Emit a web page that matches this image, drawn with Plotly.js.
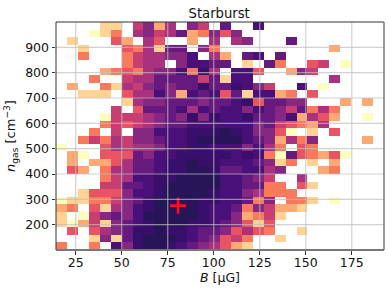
<!DOCTYPE html>
<html><head><meta charset="utf-8">
<script src="https://cdn.plot.ly/plotly-3.0.1.min.js"></script>
<style>html,body{margin:0;padding:0;background:#fff}#c{width:390px;height:291px}</style>
</head><body><div id="c"></div>
<script>
// Colour level per bin (1 palest ... 12 darkest, 0 = empty), rows from top (n≈985) to bottom (n≈115)
const r00=[0,0,0,0,2,2,0,6,8,3,7,0,8,6,0,9,0,0,10,0,0,0,0,0,0,0,0,0,0,0];
const r01=[0,0,0,1,2,4,0,7,8,6,7,9,3,4,8,5,8,0,0,0,0,0,0,0,0,0,0,0,0,0];
const r02=[0,2,0,0,0,5,3,0,7,5,0,0,3,0,7,0,7,8,0,0,0,9,0,0,0,0,0,0,0,0];
const r03=[0,0,2,0,0,0,5,4,7,2,9,9,0,8,4,0,0,0,0,0,0,0,0,0,0,3,0,0,0,0];
const r04=[0,0,4,0,0,0,4,6,7,7,8,8,10,0,7,3,0,9,10,0,9,0,0,0,0,0,0,0,0,0];
const r05=[0,0,0,0,0,0,4,6,7,7,0,8,10,10,9,9,0,2,0,9,4,0,0,5,6,0,1,0,0,0];
const r06=[0,0,0,0,3,4,5,4,7,8,8,10,4,11,7,0,10,10,5,0,0,3,8,6,0,0,0,0,0,0];
const r07=[0,0,0,4,0,0,6,7,7,9,9,9,9,6,9,2,10,10,0,0,0,0,0,0,0,7,0,0,0,0];
const r08=[0,3,0,0,4,2,7,6,8,9,8,9,9,11,9,9,11,10,8,6,0,0,10,0,1,0,0,0,0,0];
const r09=[0,0,2,2,2,0,5,7,7,10,8,3,10,9,10,5,9,2,10,10,3,4,0,5,0,0,0,0,0,0];
const r10=[0,0,0,0,0,0,2,7,8,8,9,9,9,8,9,9,10,11,5,9,9,8,8,0,0,0,3,0,3,0];
const r11=[0,0,0,0,0,6,0,5,9,9,9,10,7,10,9,10,10,8,10,9,8,6,9,4,7,4,0,0,0,0];
const r12=[0,0,0,0,1,6,6,6,7,8,9,8,11,8,11,10,10,11,9,9,8,10,3,7,5,3,0,0,1,0];
const r13=[0,0,0,0,4,6,5,6,7,8,9,9,10,10,10,10,10,10,8,9,6,5,4,3,7,0,0,0,0,0];
const r14=[0,0,0,4,0,6,0,8,8,10,10,10,11,11,11,12,11,10,8,8,5,1,0,2,0,5,0,0,0,0];
const r15=[0,0,4,6,4,7,6,8,8,9,10,10,11,12,12,12,12,10,9,8,3,7,4,8,0,0,0,0,3,0];
const r16=[1,0,0,0,5,7,6,7,7,8,10,10,11,11,10,10,10,8,10,7,4,0,5,4,0,0,0,0,0,0];
const r17=[0,3,1,0,5,5,5,9,8,10,10,11,11,11,11,11,10,11,10,4,1,9,5,4,3,5,1,0,0,0];
const r18=[0,3,0,3,3,5,7,9,9,10,11,11,12,11,11,10,10,10,9,8,2,4,0,2,0,3,0,0,0,0];
const r19=[0,5,3,0,4,7,7,9,9,10,11,11,12,12,11,9,9,10,10,7,8,0,0,0,3,4,0,0,0,0];
const r20=[0,0,0,0,4,6,7,10,10,11,11,12,12,12,12,10,10,9,8,6,0,0,7,0,0,0,0,0,0,0];
const r21=[0,0,0,0,6,6,9,9,10,11,12,12,12,12,12,10,10,9,9,4,4,0,5,2,0,0,0,0,0,0];
const r22=[0,0,2,5,5,5,8,10,10,11,12,12,12,12,11,10,10,8,7,4,4,4,0,0,0,0,0,0,0,0];
const r23=[1,2,2,4,4,6,8,9,11,12,12,12,12,11,11,10,10,9,4,8,0,4,4,2,0,1,0,0,0,0];
const r24=[3,4,0,5,2,7,8,10,11,12,12,12,12,11,10,10,9,4,8,6,3,3,2,0,0,0,0,0,0,0];
const r25=[2,0,1,6,8,9,8,10,12,12,12,12,12,11,10,10,8,3,4,6,2,0,0,0,0,0,0,0,0,0];
const r26=[2,1,3,6,2,8,9,10,11,12,12,12,11,11,10,9,8,5,2,5,0,0,0,0,0,0,0,0,0,0];
const r27=[0,5,0,5,7,8,9,11,11,12,11,11,10,9,9,8,5,7,5,4,0,0,2,0,0,0,0,0,0,0];
const r28=[0,0,0,2,8,2,9,11,12,12,12,11,10,9,8,5,6,4,0,0,2,0,0,0,0,0,0,0,0,0];
const r29=[4,0,0,4,0,10,8,11,12,12,11,10,9,8,7,5,3,2,0,0,0,0,0,0,0,0,0,0,0,0];
const rowsTopDown=[r00,r01,r02,r03,r04,r05,r06,r07,r08,r09,r10,r11,r12,r13,r14,r15,r16,r17,r18,r19,r20,r21,r22,r23,r24,r25,r26,r27,r28,r29];
const levelColors=['#fcfdbf','#fed395','#fea973','#f9795d','#e95462','#c83e73','#a8327d','#862781','#66197f','#4a1079','#38106c','#281558'];
const xTicks=[25,50,75,100,125,150,175];
const yTicks=[200,300,400,500,600,700,800,900];
const xRange=[14.3,192.5], yRange=[100,1000];
const peakB=[80.6], peakN=[275];

const z=rowsTopDown.slice().reverse().map(r=>r.map(v=>v===0?null:v));
const nx=z[0].length, ny=z.length;
const dx=(xRange[1]-xRange[0])/nx, dy=(yRange[1]-yRange[0])/ny;
const colorscale=levelColors.map((c,i)=>[i/(levelColors.length-1),c]);
const gridStyle={color:'rgba(190,190,190,0.7)',width:1.2};
const edge=(x0,y0,x1,y1,color,width)=>({type:'line',layer:'above',xref:'paper',yref:'paper',x0,x1,y0,y1,line:{color,width}});
const shapes=[
  ...xTicks.map(v=>({type:'line',layer:'above',xref:'x',yref:'paper',x0:v,x1:v,y0:0,y1:1,line:gridStyle})),
  ...yTicks.map(v=>({type:'line',layer:'above',xref:'paper',yref:'y',x0:0,x1:1,y0:v,y1:v,line:gridStyle})),
  edge(0,1,1,1,'#333',1), edge(0,0,0,1,'#333',1), edge(1,0,1,1,'#777',1.5), edge(0,0,1,0,'#777',2)
];
const font={family:'"DejaVu Sans",sans-serif',color:'#111',size:12.5};
Plotly.newPlot('c',[
 {type:'heatmap',z,x0:xRange[0]+dx/2,dx,y0:yRange[0]+dy/2,dy,zmin:1,zmax:levelColors.length,zsmooth:false,colorscale,showscale:false,hoverongaps:false},
 {type:'scatter',mode:'markers',x:peakB,y:peakN,marker:{symbol:'cross-thin',size:11.5,line:{color:'#ff0d1e',width:2.6}},showlegend:false}
],{
 width:390,height:291,margin:{l:55.5,r:6,t:21.5,b:41,pad:0},
 paper_bgcolor:'#fff',plot_bgcolor:'#fff',font,showlegend:false,
 title:{text:'Starburst',font:{size:13.2,family:font.family,color:'#111'},x:0.562,xanchor:'center',y:0.953,yanchor:'middle'},
 xaxis:{range:xRange,tickmode:'array',tickvals:xTicks,ticks:'outside',ticklen:3.5,tickwidth:1,tickcolor:'#333',ticklabelstandoff:-3,showgrid:false,zeroline:false,showline:false,title:{text:'<i>B</i> [μG]',font:{size:12.5},standoff:3},tickfont:{size:12.5}},
 yaxis:{range:yRange,tickmode:'array',tickvals:yTicks,ticks:'outside',ticklen:3.5,tickwidth:1,tickcolor:'#333',showgrid:false,zeroline:false,showline:false,title:{text:'<i>n</i><sub>gas</sub> [cm<sup>−3</sup>]',font:{size:13},standoff:6},tickfont:{size:12.5}},
 shapes
},{staticPlot:true,displayModeBar:false});
</script></body></html>
